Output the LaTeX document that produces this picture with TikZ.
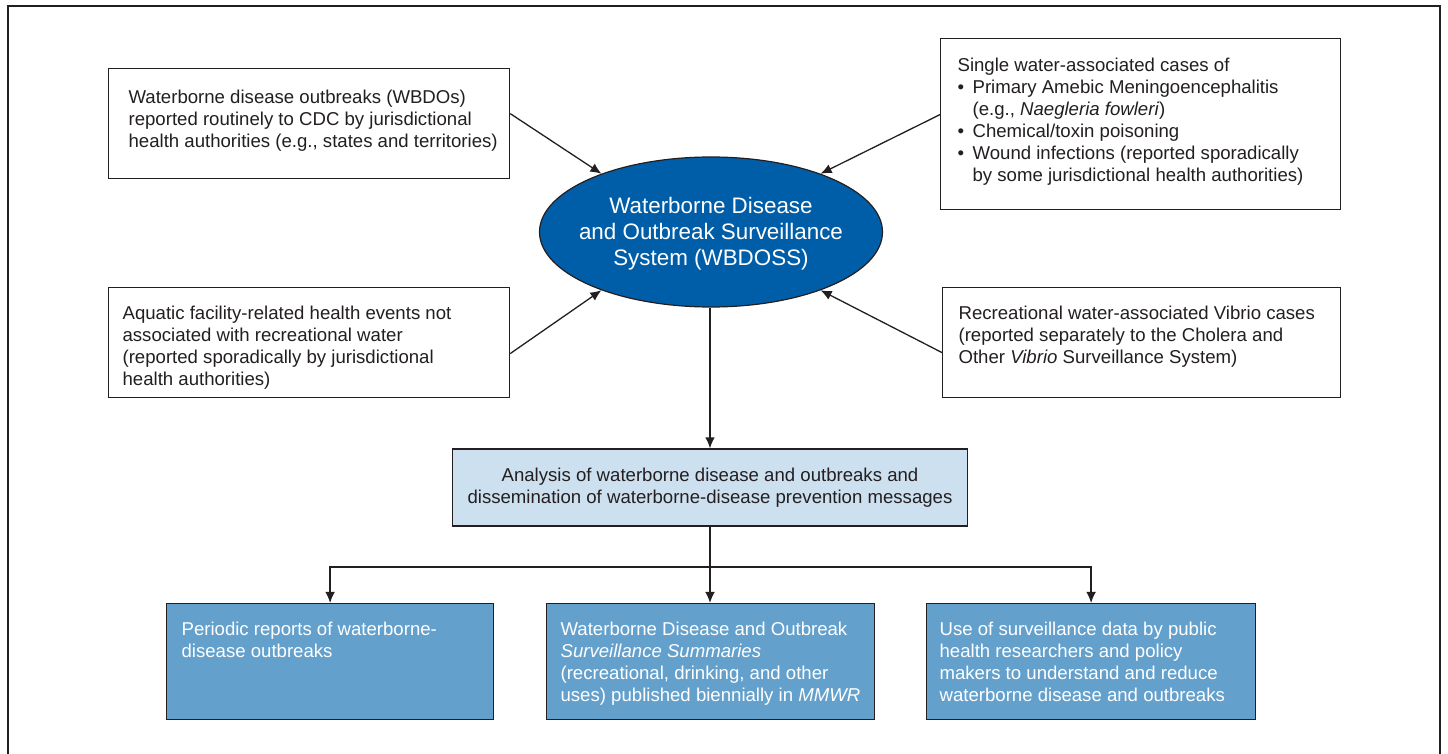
\documentclass[tikz,border=0pt]{standalone}
\usepackage{fontspec}
\setmainfont{Liberation Sans}
\usepackage{tikz}
\usetikzlibrary{arrows.meta,shapes.geometric}
\definecolor{inkgray}{RGB}{35,31,32}
\definecolor{wbblue}{RGB}{0,94,168}
\definecolor{paleblue}{RGB}{205,224,240}
\definecolor{midblue}{RGB}{100,160,204}
\newcommand{\boxpar}[4]{\parbox[c][#1][t]{#2}{\raggedright\vspace*{#3}#4}}

\begin{document}
\begin{tikzpicture}[x=0.5pt,y=-0.5pt,
    txt/.style={font=\fontsize{9.3}{11}\selectfont, text=inkgray},
    srcbox/.style={txt, draw=inkgray, fill=white, line width=0.6pt, anchor=north west, inner ysep=0pt},
    outbox/.style={srcbox, fill=midblue, text=white},
    arr/.style={draw=inkgray, line width=0.65pt, -{Latex[length=5.5pt,width=4.8pt]}},
    link/.style={draw=inkgray, line width=0.65pt}]
    \useasboundingbox (0,0) rectangle (1448,754);
    \draw[inkgray, line width=0.8pt] (8,754) -- (8,6) -- (1440,6) -- (1440,754);
    % system in the middle
    \node[ellipse, draw=inkgray, fill=wbblue, line width=0.6pt, minimum width=171.5pt, minimum height=75pt,
        inner sep=0pt] (wbdoss) at (711,232) {};
    \node[text=white, align=center, font=\fontsize{11.2}{13}\selectfont] (wbdosstext) at (711,234)
        {Waterborne Disease\\and Outbreak Surveillance\\System (WBDOSS)};
    % sources
    \node[srcbox, inner xsep=5.5pt] (wbdo) at (108,68) {\boxpar{55pt}{189.5pt}{10.5pt}{\leftskip=4.5pt
        Waterborne disease outbreaks (WBDOs)\\
        reported routinely to CDC by jurisdictional\\
        health authorities (e.g., states and territories)}};
    \node[srcbox, inner xsep=8.5pt] (single) at (940,38) {\boxpar{85.5pt}{183pt}{9.5pt}{%
        Single water-associated cases of\\
        \makebox[7.5pt][l]{\textbullet}Primary Amebic Meningoencephalitis\\
        \hspace*{7.5pt}(e.g., \textit{Naegleria fowleri})\\
        \makebox[7.5pt][l]{\textbullet}Chemical/toxin poisoning\\
        \makebox[7.5pt][l]{\textbullet}Wound infections (reported sporadically\\
        \hspace*{7.5pt}by some jurisdictional health authorities)}};
    \node[srcbox, inner xsep=7pt] (aquatic) at (108,287) {\boxpar{55pt}{186.5pt}{9pt}{%
        Aquatic facility-related health events not\\
        associated with recreational water\\
        (reported sporadically by jurisdictional\\
        health authorities)}};
    \node[srcbox, inner xsep=8pt] (vibrio) at (942,287) {\boxpar{55pt}{183pt}{9pt}{%
        Recreational water-associated Vibrio cases\\
        (reported separately to the Cholera and\\
        Other \textit{Vibrio} Surveillance System)}};
    % analysis
    \node[txt, draw=inkgray, fill=paleblue, line width=0.6pt, minimum width=257.5pt, minimum height=38.5pt,
        align=center, inner sep=2pt] (analysis) at (710,487.5)
        {Analysis of waterborne disease and outbreaks and\\dissemination of waterborne-disease prevention messages};
    % outputs
    \node[outbox, inner xsep=7.5pt] (periodic) at (166,603) {\boxpar{58pt}{148.5pt}{9pt}{%
        Periodic reports of waterborne-\\
        disease outbreaks}};
    \node[outbox, inner xsep=7pt] (summaries) at (546,603) {\boxpar{58pt}{150pt}{9pt}{%
        Waterborne Disease and Outbreak\\
        \textit{Surveillance Summaries}\\
        (recreational, drinking, and other\\
        uses) published biennially in \textit{MMWR}}};
    \node[outbox, inner xsep=6.5pt] (datause) at (926,603) {\boxpar{58pt}{151.5pt}{9pt}{%
        Use of surveillance data by public\\
        health researchers and policy\\
        makers to understand and reduce\\
        waterborne disease and outbreaks}};
    \coordinate (split) at (710,567);
    % connectors
    \draw[arr] ([yshift=5pt]wbdo.east) -- (wbdoss.152);
    \draw[arr] ([yshift=4.75pt]single.west) -- (wbdoss.28);
    \draw[arr] ([yshift=-5.5pt]aquatic.east) -- (wbdoss.208);
    \draw[arr] ([yshift=-5pt]vibrio.west) -- (wbdoss.332);
    \draw[arr] (wbdoss.south -| analysis.north) -- (analysis.north);
    \draw[link] (analysis.south) -- (split);
    \draw[arr] (split) -- (split |- summaries.north);
    \draw[arr] (split) -| (periodic.north);
    \draw[arr] (split) -| (datause.north);
\end{tikzpicture}
\end{document}
